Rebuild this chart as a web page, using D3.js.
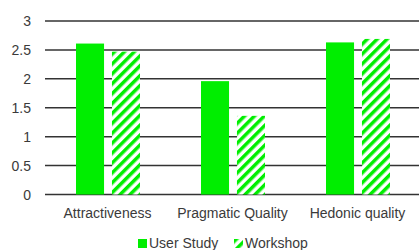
<!DOCTYPE html>
<html><head><meta charset="utf-8">
<script src="https://cdn.jsdelivr.net/npm/d3@7"></script>
<style>body{margin:0;background:#fff;}svg{display:block;}</style>
</head><body>
<svg id="c" width="419" height="250"></svg>
<script>
const categories = ["Attractiveness", "Pragmatic Quality", "Hedonic quality"];
const series = ["User Study", "Workshop"];
const userStudy = [2.61, 1.96, 2.63];
const workshop = [2.47, 1.36, 2.69];
const yTicks = [0, 0.5, 1, 1.5, 2, 2.5, 3];

const svg = d3.select("#c");
const green = "#00ee00";
const textColor = "#3a3a3a";
const font = "Liberation Sans, Arial, sans-serif";

const defs = svg.append("defs");
const pat = defs.append("pattern").attr("id", "hatch")
  .attr("patternUnits", "userSpaceOnUse").attr("width", 7).attr("height", 7)
  .attr("patternTransform", "rotate(45)");
pat.append("rect").attr("width", 7).attr("height", 7).attr("fill", "#fff");
pat.append("rect").attr("x", 0).attr("width", 3.5).attr("height", 7).attr("fill", green);

const x = d3.scaleBand().domain(categories).range([45, 420]).paddingInner(0).paddingOuter(0);
const y = d3.scaleLinear().domain([0, 3]).range([194.5, 21]);
const xs = d3.scaleBand().domain(series).range([31, 95]).paddingInner(0.22);

// gridlines
svg.append("g").selectAll("line").data(yTicks).join("line")
  .attr("x1", 45).attr("x2", 419)
  .attr("y1", d => y(d)).attr("y2", d => y(d))
  .attr("stroke", "#333").attr("stroke-width", 1.5);

// y labels
const yAxis = d3.axisLeft(y).tickValues(yTicks).tickSize(0).tickPadding(0).tickFormat(d3.format("~g"));
const ga = svg.append("g").attr("transform", "translate(31,0)").call(yAxis);
ga.select(".domain").remove();
ga.selectAll("text").attr("font-family", font).attr("font-size", 14).attr("fill", textColor).attr("dy", "0.35em");

// bars
const data = categories.map((c, i) => ({c, vals: [userStudy[i], workshop[i]]}));
const groups = svg.append("g").selectAll("g").data(data).join("g")
  .attr("transform", d => `translate(${x(d.c)},0)`);
groups.selectAll("rect").data(d => d.vals.map((v, j) => ({s: series[j], v}))).join("rect")
  .attr("x", d => xs(d.s)).attr("width", xs.bandwidth())
  .attr("y", d => y(d.v)).attr("height", d => y(0) - y(d.v))
  .attr("fill", d => d.s === "User Study" ? green : "url(#hatch)");

// x labels
const xAxis = d3.axisBottom(x).tickSize(0).tickPadding(0);
const gx = svg.append("g").attr("transform", "translate(0,208)").call(xAxis);
gx.select(".domain").remove();
gx.selectAll("text").attr("font-family", font).attr("font-size", 14).attr("fill", textColor).attr("dy", "0.71em");

// legend
const legendX = [138, 234];
const lg = svg.append("g").selectAll("g").data(series).join("g")
  .attr("transform", (d, i) => `translate(${legendX[i]},239)`);
lg.append("rect").attr("width", 9).attr("height", 9)
  .attr("fill", (d, i) => i === 0 ? green : "url(#hatch)");
lg.append("text").attr("x", 11).attr("y", 4.5).attr("dy", "0.35em")
  .attr("font-family", font).attr("font-size", 14).attr("fill", textColor).text(d => d);
</script>
</body></html>
